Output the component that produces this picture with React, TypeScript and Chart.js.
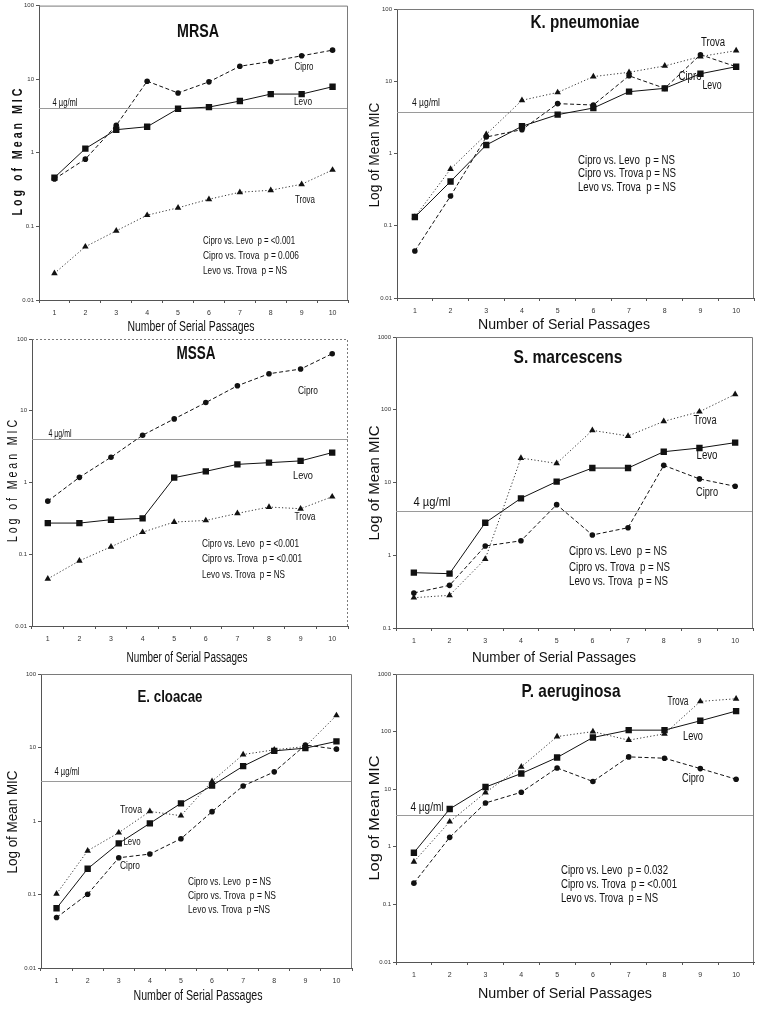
import React, { useEffect, useRef } from 'react';
import { Chart, registerables } from 'chart.js';

Chart.register(...registerables);

const FONT = '"Liberation Sans", Arial, Helvetica, sans-serif';
const PAGE_W = 768;
const PAGE_H = 1010;

// ---------- data ----------
const passages = ['1', '2', '3', '4', '5', '6', '7', '8', '9', '10'];
const ticksTo100 = [0.01, 0.1, 1, 10, 100];
const ticksFrom01To1000 = [0.1, 1, 10, 100, 1000];
const ticksTo1000 = [0.01, 0.1, 1, 10, 100, 1000];

const mrsaCipro = [0.44, 0.82, 2.36, 9.4, 6.5, 9.2, 15, 17.4, 20.8, 24.8];
const mrsaLevo = [0.46, 1.14, 2.06, 2.26, 3.97, 4.18, 5.05, 6.28, 6.28, 7.9];
const mrsaTrova = [0.023, 0.053, 0.087, 0.142, 0.179, 0.234, 0.291, 0.31, 0.374, 0.585];
const mrsaStats = ['Cipro vs. Levo  p = <0.001', 'Cipro vs. Trova  p = 0.006', 'Levo vs. Trova  p = NS'];

const kpnCipro = [0.0448, 0.258, 1.69, 2.14, 4.9, 4.69, 11.9, 7.98, 23.3, 15.9];
const kpnLevo = [0.132, 0.41, 1.31, 2.38, 3.45, 4.26, 7.17, 7.98, 12.7, 15.9];
const kpnTrova = [0.132, 0.61, 1.84, 5.45, 7.0, 11.6, 13.3, 16.3, 22, 26.5];
const kpnStats = ['Cipro vs. Levo  p = NS', 'Cipro vs. Trova p = NS', 'Levo vs. Trova  p = NS'];

const mssaCipro = [0.55, 1.18, 2.25, 4.56, 7.7, 13.0, 22.3, 32.8, 38.1, 62.4];
const mssaLevo = [0.272, 0.272, 0.303, 0.316, 1.17, 1.43, 1.79, 1.89, 2.0, 2.61];
const mssaTrova = [0.0454, 0.081, 0.127, 0.203, 0.281, 0.296, 0.371, 0.455, 0.431, 0.634];
const mssaStats = ['Cipro vs. Levo  p = <0.001', 'Cipro vs. Trova  p = <0.001', 'Levo vs. Trova  p = NS'];

const smaCipro = [0.303, 0.386, 1.34, 1.58, 4.96, 1.9, 2.39, 17.2, 11.2, 8.86];
const smaLevo = [0.576, 0.558, 2.8, 6.06, 10.3, 15.8, 15.8, 26.5, 29.8, 35.3];
const smaTrova = [0.261, 0.281, 0.887, 21.7, 18.3, 52.1, 43.6, 69.3, 94, 163];
const smaStats = ['Cipro vs. Levo  p = NS', 'Cipro vs. Trova  p = NS', 'Levo vs. Trova  p = NS'];

const eclCipro = [0.0486, 0.101, 0.316, 0.355, 0.574, 1.34, 3.0, 4.66, 10.8, 9.5];
const eclLevo = [0.065, 0.224, 0.496, 0.93, 1.74, 3.03, 5.57, 9.0, 9.8, 12.1];
const eclTrova = [0.102, 0.394, 0.693, 1.35, 1.18, 3.47, 8.03, 9.3, 10.3, 27.3];
const eclStats = ['Cipro vs. Levo  p = NS', 'Cipro vs. Trova  p = NS', 'Levo vs. Trova  p =NS'];

const paeCipro = [0.234, 1.46, 5.77, 8.85, 23.4, 13.6, 36.4, 34.5, 22.8, 14.9];
const paeLevo = [0.79, 4.54, 10.9, 18.7, 35.5, 79, 106, 106, 154, 227];
const paeTrova = [0.55, 2.73, 8.73, 24.4, 82, 100, 71, 91.5, 334, 372];
const paeStats = ['Cipro vs. Levo  p = 0.032', 'Cipro vs. Trova  p = <0.001', 'Levo vs. Trova  p = NS'];

const thresholdLabel = '4 µg/ml';
const xTitle = 'Number of Serial Passages';
const yTitle = 'Log of Mean MIC';
const yTitleSpaced = 'L o g   o f   M e a n   M I C';

// ---------- layout ----------
type TextItem = { t: string; x: number; y: number; w: number; s: number; b?: boolean; left?: boolean; rot?: boolean };
type Panel = {
  key: string;
  cipro: number[];
  levo: number[];
  trova: number[];
  yTicks: number[];
  threshold: number;
  area: [number, number, number, number]; // left, top, right, bottom (page px)
  dashedBox?: boolean;
  texts: TextItem[];
};

const T = (t: string, x: number, y: number, w: number, s: number, extra: Partial<TextItem> = {}): TextItem => ({ t, x, y, w, s, ...extra });
const statLines = (lines: string[], x: number, ys: number[], ws: number[], s: number): TextItem[] =>
  lines.map((t, i) => T(t, x, ys[i], ws[i], s, { left: true }));

const panels: Panel[] = [
  {
    key: 'mrsa', cipro: mrsaCipro, levo: mrsaLevo, trova: mrsaTrova, yTicks: ticksTo100, threshold: 4,
    area: [39, 5, 348, 300],
    texts: [
      T('MRSA', 198, 32, 42, 19, { b: true }),
      T('Cipro', 304, 67, 19, 11), T('Levo', 303, 102, 18, 11), T('Trova', 305, 200, 20, 11),
      T(thresholdLabel, 65, 103, 25, 10),
      T(xTitle, 191, 327, 127, 14),
      T(yTitleSpaced, 18, 152, 127, 14, { b: true, rot: true }),
      ...statLines(mrsaStats, 203, [241, 256, 271], [92, 96, 84], 11),
    ],
  },
  {
    key: 'kpn', cipro: kpnCipro, levo: kpnLevo, trova: kpnTrova, yTicks: ticksTo100, threshold: 3.75,
    area: [397, 9, 754, 298],
    texts: [
      T('K. pneumoniae', 585, 23, 109, 19, { b: true }),
      T('Trova', 713, 43, 24, 12), T('Cipro', 690, 77, 23, 12), T('Levo', 712, 86, 19, 12),
      T(thresholdLabel, 426, 103, 28, 11),
      T(xTitle, 564, 325, 172, 15),
      T(yTitle, 375, 155, 105, 14, { rot: true }),
      ...statLines(kpnStats, 578, [161, 174, 188], [97, 98, 98], 12),
    ],
  },
  {
    key: 'mssa', cipro: mssaCipro, levo: mssaLevo, trova: mssaTrova, yTicks: ticksTo100, threshold: 4,
    area: [32, 339, 348, 626], dashedBox: true,
    texts: [
      T('MSSA', 196, 354, 39, 19, { b: true }),
      T('Cipro', 308, 391, 20, 11), T('Levo', 303, 476, 20, 11), T('Trova', 305, 517, 21, 11),
      T(thresholdLabel, 60, 434, 23, 10),
      T(xTitle, 187, 658, 121, 14),
      T(yTitleSpaced, 13, 481, 122, 14, { rot: true }),
      ...statLines(mssaStats, 202, [544, 559, 575], [97, 100, 83], 11),
    ],
  },
  {
    key: 'sma', cipro: smaCipro, levo: smaLevo, trova: smaTrova, yTicks: ticksFrom01To1000, threshold: 4,
    area: [396, 337, 753, 628],
    texts: [
      T('S. marcescens', 568, 358, 109, 19, { b: true }),
      T('Trova', 705, 421, 23, 12), T('Levo', 707, 456, 21, 12), T('Cipro', 707, 493, 22, 12),
      T(thresholdLabel, 432, 503, 37, 12),
      T(xTitle, 554, 658, 164, 15),
      T(yTitle, 375, 483, 115, 15, { rot: true }),
      ...statLines(smaStats, 569, [552, 568, 582], [98, 101, 99], 12),
    ],
  },
  {
    key: 'ecl', cipro: eclCipro, levo: eclLevo, trova: eclTrova, yTicks: ticksTo100, threshold: 3.5,
    area: [41, 674, 352, 968],
    texts: [
      T('E. cloacae', 170, 697, 65, 17, { b: true }),
      T('Trova', 131, 810, 22, 11), T('Levo', 132, 842, 17, 11), T('Cipro', 130, 866, 20, 11),
      T(thresholdLabel, 67, 772, 25, 10),
      T(xTitle, 198, 996, 129, 14),
      T(yTitle, 13, 822, 103, 14, { rot: true }),
      ...statLines(eclStats, 188, [882, 896, 910], [83, 88, 82], 11),
    ],
  },
  {
    key: 'pae', cipro: paeCipro, levo: paeLevo, trova: paeTrova, yTicks: ticksTo1000, threshold: 3.6,
    area: [396, 674, 754, 962],
    texts: [
      T('P. aeruginosa', 571, 692, 99, 19, { b: true }),
      T('Trova', 678, 702, 21, 12), T('Levo', 693, 737, 20, 12), T('Cipro', 693, 779, 22, 12),
      T(thresholdLabel, 427, 808, 33, 12),
      T(xTitle, 565, 994, 174, 15),
      T(yTitle, 375, 818, 125, 15, { rot: true }),
      ...statLines(paeStats, 561, [871, 885, 899], [107, 116, 97], 12),
    ],
  },
];

const Y_AXIS_W = 22;
const X_AXIS_H = 20;

function drawFitText(ctx: CanvasRenderingContext2D, it: TextItem) {
  ctx.save();
  ctx.font = `${it.b ? 'bold ' : ''}${it.s}px ${FONT}`;
  const m = ctx.measureText(it.t).width || 1;
  const sx = it.w / m;
  ctx.translate(it.x, it.y);
  if (it.rot) ctx.rotate(-Math.PI / 2);
  ctx.scale(sx, 1);
  ctx.fillStyle = '#111';
  ctx.textAlign = it.left ? 'left' : 'center';
  ctx.textBaseline = 'middle';
  ctx.fillText(it.t, 0, 0);
  ctx.restore();
}

function fmtTick(v: number): string {
  if (v >= 1) return String(Math.round(v));
  return String(Number(v.toPrecision(1)));
}

function PanelChart({ panel }: { panel: Panel }) {
  const ref = useRef<HTMLCanvasElement | null>(null);
  useEffect(() => {
    if (!ref.current) return;
    const [L, Tp, R, B] = panel.area;
    const decor = {
      id: 'decor_' + panel.key,
      beforeDatasetsDraw(chart: any) {
        const { ctx, chartArea } = chart;
        const y = chart.scales.y.getPixelForValue(panel.threshold);
        ctx.save();
        ctx.strokeStyle = '#9a9a9a';
        ctx.lineWidth = 1;
        ctx.beginPath();
        ctx.moveTo(chartArea.left, Math.round(y) + 0.5);
        ctx.lineTo(chartArea.right, Math.round(y) + 0.5);
        ctx.stroke();
        ctx.strokeStyle = '#7a7a7a';
        if (panel.dashedBox) ctx.setLineDash([2, 2]);
        ctx.beginPath();
        ctx.moveTo(chartArea.left, chartArea.top + 0.5);
        ctx.lineTo(chartArea.right - 0.5, chartArea.top + 0.5);
        ctx.lineTo(chartArea.right - 0.5, chartArea.bottom);
        ctx.stroke();
        ctx.restore();
      },
      afterDraw(chart: any) {
        const ctx = chart.ctx as CanvasRenderingContext2D;
        panel.texts.forEach((it) => drawFitText(ctx, it));
      },
    };
    const common = { borderColor: '#111', backgroundColor: '#111', borderWidth: 1, tension: 0, fill: false, pointBorderWidth: 0 };
    const chart = new Chart(ref.current, {
      type: 'line',
      data: {
        labels: passages,
        datasets: [
          { ...common, label: 'Trova', data: panel.trova, borderDash: [1.2, 2.2], pointStyle: 'triangle', pointRadius: 3.8, borderColor: '#333' },
          { ...common, label: 'Levo', data: panel.levo, pointStyle: 'rect', pointRadius: 4.5 },
          { ...common, label: 'Cipro', data: panel.cipro, borderDash: [4, 2.5], pointStyle: 'circle', pointRadius: 2.8 },
        ],
      } as any,
      options: {
        responsive: false,
        animation: false,
        devicePixelRatio: 1,
        events: [],
        layout: { padding: { left: L - Y_AXIS_W, right: PAGE_W - R, top: Tp, bottom: PAGE_H - B - X_AXIS_H } },
        plugins: { legend: { display: false }, title: { display: false }, tooltip: { enabled: false } },
        scales: {
          x: {
            type: 'category',
            offset: true,
            grid: { offset: true, drawOnChartArea: false, drawTicks: true, tickLength: 3, color: '#555' },
            border: { color: '#555', width: 1 },
            ticks: { font: { size: 7, family: FONT }, color: '#333', padding: 6, maxRotation: 0, autoSkip: false },
            afterFit: (s: any) => { s.height = X_AXIS_H; },
          },
          y: {
            type: 'logarithmic',
            min: panel.yTicks[0],
            max: panel.yTicks[panel.yTicks.length - 1],
            grid: { drawOnChartArea: false, drawTicks: true, tickLength: 3, color: '#555' },
            border: { color: '#555', width: 1 },
            ticks: { font: { size: 6, family: FONT }, color: '#333', padding: 2, callback: (v: any) => fmtTick(Number(v)) },
            afterBuildTicks: (s: any) => { s.ticks = panel.yTicks.map((v) => ({ value: v })); },
            afterFit: (s: any) => { s.width = Y_AXIS_W; },
          },
        },
      } as any,
      plugins: [decor],
    });
    return () => chart.destroy();
  }, [panel]);
  return (
    <canvas
      ref={ref}
      width={PAGE_W}
      height={PAGE_H}
      style={{ position: 'absolute', left: 0, top: 0, width: PAGE_W, height: PAGE_H }}
    />
  );
}

export default function App() {
  return (
    <div style={{ position: 'absolute', left: 0, top: 0, width: PAGE_W, height: PAGE_H, background: '#fff', overflow: 'hidden' }}>
      {panels.map((p) => (
        <PanelChart key={p.key} panel={p} />
      ))}
    </div>
  );
}
